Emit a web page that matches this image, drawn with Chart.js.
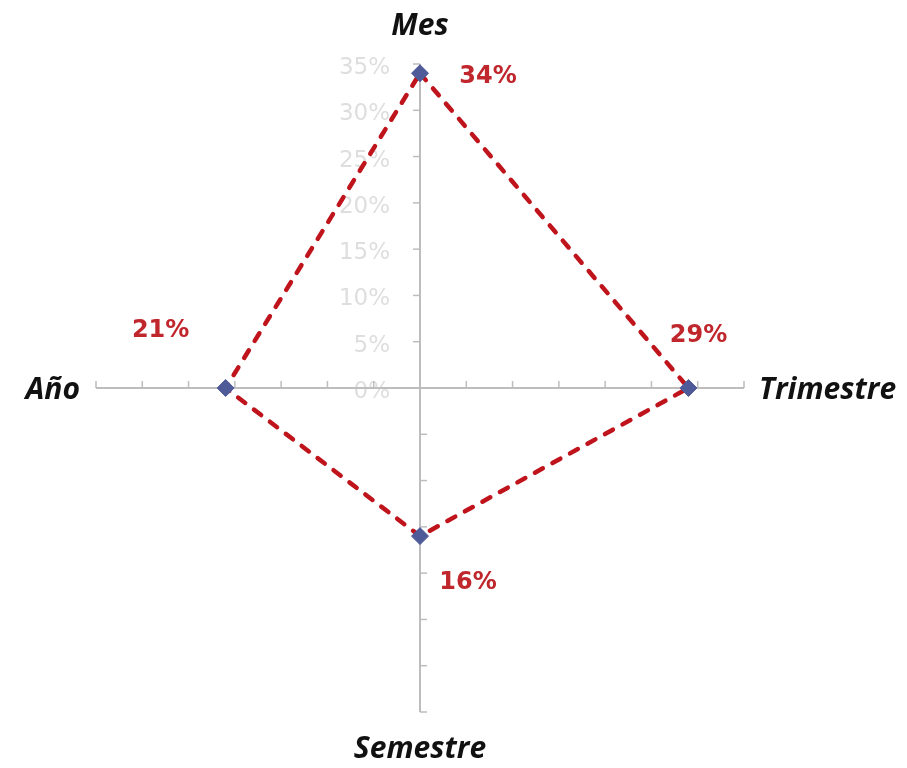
<!DOCTYPE html>
<html>
<head>
<meta charset="utf-8">
<script src="https://cdn.jsdelivr.net/npm/chart.js@4.4.0/dist/chart.umd.min.js"></script>
<style>
  html, body { margin: 0; padding: 0; background: #fff; }
  #wrap { width: 907px; height: 768px; position: relative; }
</style>
</head>
<body>
<div id="wrap"><canvas id="radar"></canvas></div>
<script>
// data
const categories = ["Mes", "Trimestre", "Semestre", "Año"];
const values = [34, 29, 16, 21];
const tickValues = [0, 5, 10, 15, 20, 25, 30, 35];
const tickLabels = ["0%", "5%", "10%", "15%", "20%", "25%", "30%", "35%"];

const axisColor = "#bdbdbd";

// where the red value labels sit relative to their point (text centre)
const valueLabelOffsets = [[68, 4], [10, -52], [48, 47], [-65, -57]];
// how far past the end of each axis the category name goes
const axisLabelGaps = [29, 15, 46, 16];

// tick labels + tick marks, drawn under the axis lines
const axisDecor = {
  id: "axisDecor",
  beforeDraw(chart) {
    const ctx = chart.ctx;
    const scale = chart.scales.r;
    ctx.save();

    // labels on the vertical axis only
    ctx.font = "23px 'DejaVu Sans'";
    ctx.fillStyle = "#dedede";
    ctx.textAlign = "right";
    ctx.textBaseline = "alphabetic";
    tickValues.forEach((v, i) => {
      const y = scale.yCenter - scale.getDistanceFromCenterForValue(v);
      ctx.fillText(tickLabels[i], scale.xCenter - 30, y + 10);
    });

    // small tick marks on every axis
    ctx.strokeStyle = axisColor;
    ctx.lineWidth = 1.5;
    categories.forEach((c, i) => {
      const unit = scale.getPointPosition(i, 1);
      const dx = unit.x - scale.xCenter;
      const dy = unit.y - scale.yCenter;
      let px, py;
      if (Math.abs(dx) > Math.abs(dy)) {
        px = 0; py = -1;
      } else {
        px = dy > 0 ? 1 : -1; py = 0;
      }
      tickValues.forEach((v) => {
        if (v === 0) return;
        const p = scale.getPointPosition(i, scale.getDistanceFromCenterForValue(v));
        ctx.beginPath();
        ctx.moveTo(p.x, p.y);
        ctx.lineTo(p.x + px * 7, p.y + py * 7);
        ctx.stroke();
      });
    });
    ctx.restore();
  },
  afterDatasetsDraw(chart) {
    const ctx = chart.ctx;
    const scale = chart.scales.r;
    const meta = chart.getDatasetMeta(0);
    ctx.save();

    // value labels
    ctx.font = "bold 24px 'DejaVu Sans'";
    ctx.fillStyle = "#c0272d";
    ctx.textAlign = "center";
    ctx.textBaseline = "middle";
    meta.data.forEach((pt, i) => {
      const off = valueLabelOffsets[i];
      ctx.fillText(values[i] + "%", pt.x + off[0], pt.y + off[1]);
    });

    // category names at the ends of the axes
    ctx.font = "italic bold 30px 'Open Sans'";
    ctx.fillStyle = "#111";
    ctx.textBaseline = "alphabetic";
    categories.forEach((c, i) => {
      const p = scale.getPointPosition(i, scale.drawingArea + axisLabelGaps[i]);
      const dx = p.x - scale.xCenter;
      const dy = p.y - scale.yCenter;
      if (Math.abs(dx) > Math.abs(dy)) {
        ctx.textAlign = dx > 0 ? "left" : "right";
        ctx.fillText(c, p.x, p.y + 11);
      } else {
        ctx.textAlign = "center";
        ctx.fillText(c, p.x, p.y);
      }
    });
    ctx.restore();
  }
};

new Chart(document.getElementById("radar"), {
  type: "radar",
  data: {
    labels: categories,
    datasets: [
      {
        data: values,
        fill: false,
        borderColor: "#bf141c",
        borderWidth: 4.5,
        borderDash: [9, 11],
        borderCapStyle: "round",
        pointStyle: "rectRot",
        pointRadius: 8.5,
        pointBackgroundColor: "#4f5b99",
        pointBorderColor: "#4f5b99",
        pointBorderWidth: 1,
        tension: 0
      }
    ]
  },
  options: {
    responsive: true,
    maintainAspectRatio: false,
    animation: false,
    events: [],
    layout: { padding: { left: 96, right: 163, top: 64, bottom: 56 } },
    plugins: {
      legend: { display: false },
      tooltip: { enabled: false }
    },
    scales: {
      r: {
        min: 0,
        max: 35,
        ticks: { display: false, stepSize: 5 },
        grid: { display: false },
        pointLabels: { display: false },
        angleLines: { display: true, color: axisColor, lineWidth: 2 }
      }
    }
  },
  plugins: [axisDecor]
});
</script>
</body>
</html>
